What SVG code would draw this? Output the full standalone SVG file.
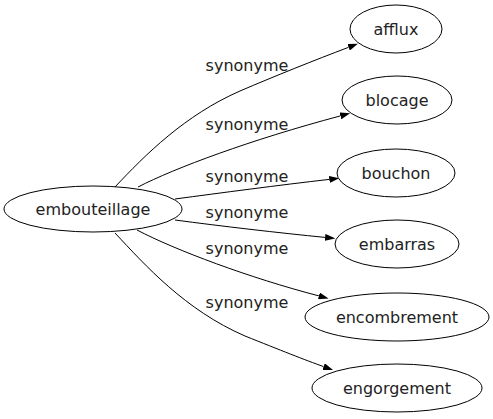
<svg xmlns="http://www.w3.org/2000/svg" width="493" height="419" viewBox="0 0 493 419">
<defs>
<style>
.node ellipse{fill:#ffffff;stroke:#000000;stroke-width:1}
.node text{font-family:"DejaVu Sans","Liberation Sans",sans-serif;font-size:16px;fill:#222222;text-anchor:middle}
.edge path{fill:none;stroke:#000000;stroke-width:1;marker-end:url(#arrow)}
.edge text{font-family:"DejaVu Sans","Liberation Sans",sans-serif;font-size:16px;fill:#222222;text-anchor:middle}
</style>
<marker id="arrow" viewBox="0 0 10 7" refX="0" refY="3.5" markerWidth="10" markerHeight="7" markerUnits="userSpaceOnUse" orient="auto">
<path d="M0,0 L10,3.5 L0,7 z" fill="#000000"/>
</marker>
</defs>
<rect width="493" height="419" fill="#ffffff"/>
<g id="edges">
<g class="edge" id="e-afflux"><path d="M115,187 C145,155 185,115 240,91 C275,76 315,60 348.6,47.3"/><text x="247" y="71">synonyme</text></g>
<g class="edge" id="e-blocage"><path d="M138,187 C175,168 250,140 340.4,115.9"/><text x="247" y="130">synonyme</text></g>
<g class="edge" id="e-bouchon"><path d="M175,199 C220,193 280,185 329.3,179.4"/><text x="247" y="182">synonyme</text></g>
<g class="edge" id="e-embarras"><path d="M175,220 C220,226 280,233 325.1,237.4"/><text x="247" y="218">synonyme</text></g>
<g class="edge" id="e-encombrement"><path d="M137,230 C175,250 250,278 318.9,295.9"/><text x="247" y="254">synonyme</text></g>
<g class="edge" id="e-engorgement"><path d="M115,233 C145,265 185,310 245,336 C280,350 305,360 323.6,366.6"/><text x="247" y="308">synonyme</text></g>
</g>
<g class="node" id="n-embouteillage"><ellipse cx="93" cy="209" rx="89" ry="23"/><text x="93" y="215">embouteillage</text></g>
<g class="node" id="n-afflux"><ellipse cx="396" cy="29" rx="46" ry="24"/><text x="396" y="35">afflux</text></g>
<g class="node" id="n-blocage"><ellipse cx="397" cy="100" rx="55" ry="24"/><text x="397" y="106">blocage</text></g>
<g class="node" id="n-bouchon"><ellipse cx="396" cy="173" rx="59" ry="24"/><text x="396" y="179">bouchon</text></g>
<g class="node" id="n-embarras"><ellipse cx="397" cy="244" rx="62" ry="24"/><text x="397" y="250">embarras</text></g>
<g class="node" id="n-encombrement"><ellipse cx="397" cy="317" rx="92" ry="24"/><text x="397" y="323">encombrement</text></g>
<g class="node" id="n-engorgement"><ellipse cx="397" cy="388" rx="85" ry="24"/><text x="397" y="394">engorgement</text></g>
</svg>
